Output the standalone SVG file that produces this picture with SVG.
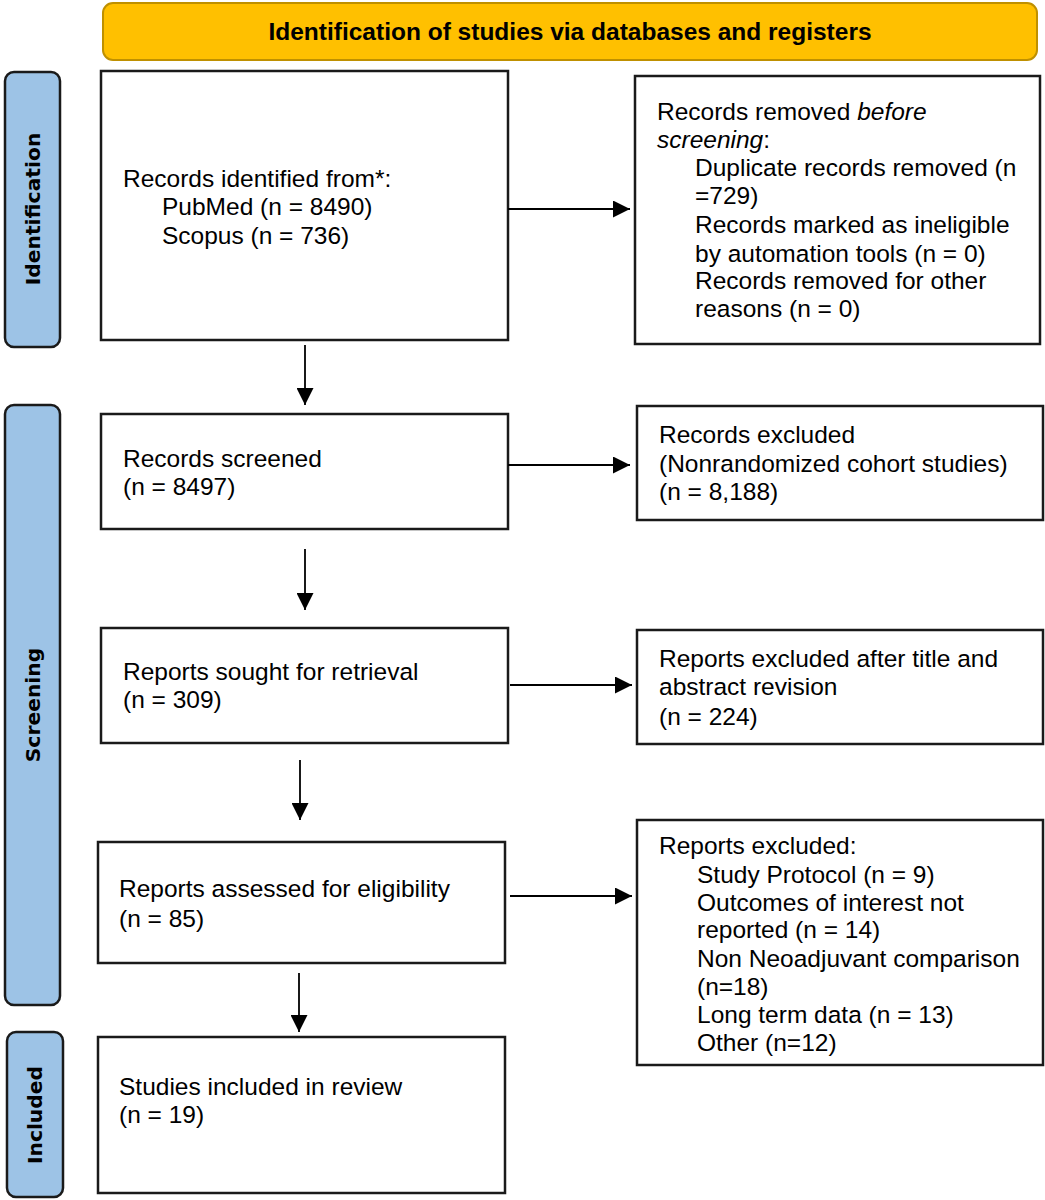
<svg xmlns="http://www.w3.org/2000/svg" width="1045" height="1200" viewBox="0 0 1045 1200">
<style>
.box{fill:#fff;stroke:#1a1a1a;stroke-width:2.5}
.side{fill:#9DC3E6;stroke:#1a1a1a;stroke-width:2.5}
.hdr{fill:#FFC000;stroke:#BF9000;stroke-width:2}
.t{font-family:"Liberation Sans",Arial,sans-serif;font-size:24.5px;fill:#000}
.st{font-family:"DejaVu Sans",Verdana,sans-serif;font-weight:bold;font-size:20.3px;fill:#000}
.ht{font-family:"Liberation Sans",Arial,sans-serif;font-weight:bold;font-size:24.5px;fill:#000}
.ln{stroke:#000;stroke-width:1.8;fill:none}
</style>
<defs>
<marker id="ah2" viewBox="0 0 17 17" refX="17" refY="8.5" markerWidth="17" markerHeight="17" markerUnits="userSpaceOnUse" orient="auto">
<path d="M0,0 L17,8.5 L0,17 Z" fill="#000"/>
</marker>
</defs>

<g id="header">
<rect class="hdr" x="103" y="3" width="934" height="57" rx="10"/>
<text class="ht" x="570" y="40" text-anchor="middle">Identification of studies via databases and registers</text>
</g>

<g id="side-identification">
<rect class="side" x="5" y="72" width="55" height="275" rx="9"/>
<text class="st" transform="translate(40,209) rotate(-90)" text-anchor="middle">Identification</text>
</g>
<g id="side-screening">
<rect class="side" x="5" y="405" width="55" height="600" rx="9"/>
<text class="st" transform="translate(40,705) rotate(-90)" text-anchor="middle">Screening</text>
</g>
<g id="side-included">
<rect class="side" x="7" y="1032" width="56" height="165" rx="9"/>
<text class="st" transform="translate(42,1115) rotate(-90)" text-anchor="middle">Included</text>
</g>

<g id="records-identified">
<rect class="box" x="101" y="71" width="407" height="269"/>
<text class="t" x="123" y="187">Records identified from*:</text>
<text class="t" x="162" y="215">PubMed (n = 8490)</text>
<text class="t" x="162" y="244">Scopus (n = 736)</text>
</g>

<g id="records-removed">
<rect class="box" x="635" y="76" width="405" height="268"/>
<text class="t" x="657" y="120">Records removed <tspan font-style="italic">before</tspan></text>
<text class="t" x="657" y="148"><tspan font-style="italic">screening</tspan>:</text>
<text class="t" x="695" y="176">Duplicate records removed (n</text>
<text class="t" x="695" y="204">=729)</text>
<text class="t" x="695" y="233">Records marked as ineligible</text>
<text class="t" x="695" y="262">by automation tools (n = 0)</text>
<text class="t" x="695" y="289">Records removed for other</text>
<text class="t" x="695" y="317">reasons (n = 0)</text>
</g>

<g id="records-screened">
<rect class="box" x="101" y="414" width="407" height="115"/>
<text class="t" x="123" y="467">Records screened</text>
<text class="t" x="123" y="495">(n = 8497)</text>
</g>

<g id="records-excluded">
<rect class="box" x="637" y="406" width="406" height="114"/>
<text class="t" x="659" y="443">Records excluded</text>
<text class="t" x="659" y="472">(Nonrandomized cohort studies)</text>
<text class="t" x="659" y="500">(n = 8,188)</text>
</g>

<g id="reports-sought">
<rect class="box" x="101" y="628" width="407" height="115"/>
<text class="t" x="123" y="680">Reports sought for retrieval</text>
<text class="t" x="123" y="708">(n = 309)</text>
</g>

<g id="reports-excluded-title">
<rect class="box" x="637" y="630" width="406" height="114"/>
<text class="t" x="659" y="667">Reports excluded after title and</text>
<text class="t" x="659" y="695">abstract revision</text>
<text class="t" x="659" y="725">(n = 224)</text>
</g>

<g id="reports-assessed">
<rect class="box" x="98" y="842" width="407" height="121"/>
<text class="t" x="119" y="897">Reports assessed for eligibility</text>
<text class="t" x="119" y="927">(n = 85)</text>
</g>

<g id="reports-excluded">
<rect class="box" x="637" y="820" width="406" height="245"/>
<text class="t" x="659" y="854">Reports excluded:</text>
<text class="t" x="697" y="883">Study Protocol (n = 9)</text>
<text class="t" x="697" y="911">Outcomes of interest not</text>
<text class="t" x="697" y="938">reported (n = 14)</text>
<text class="t" x="697" y="967">Non Neoadjuvant comparison</text>
<text class="t" x="697" y="995">(n=18)</text>
<text class="t" x="697" y="1023">Long term data (n = 13)</text>
<text class="t" x="697" y="1051">Other (n=12)</text>
</g>

<g id="studies-included">
<rect class="box" x="98" y="1037" width="407" height="156"/>
<text class="t" x="119" y="1095">Studies included in review</text>
<text class="t" x="119" y="1123">(n = 19)</text>
</g>

<g id="connectors">
<line class="ln" x1="508" y1="209" x2="630" y2="209" marker-end="url(#ah2)"/>
<line class="ln" x1="508" y1="465" x2="630" y2="465" marker-end="url(#ah2)"/>
<line class="ln" x1="510" y1="685" x2="632" y2="685" marker-end="url(#ah2)"/>
<line class="ln" x1="510" y1="896" x2="632" y2="896" marker-end="url(#ah2)"/>
<line class="ln" x1="305" y1="345" x2="305" y2="405" marker-end="url(#ah2)"/>
<line class="ln" x1="305" y1="549" x2="305" y2="610" marker-end="url(#ah2)"/>
<line class="ln" x1="300" y1="760" x2="300" y2="820" marker-end="url(#ah2)"/>
<line class="ln" x1="299" y1="973" x2="299" y2="1032" marker-end="url(#ah2)"/>
</g>
</svg>
